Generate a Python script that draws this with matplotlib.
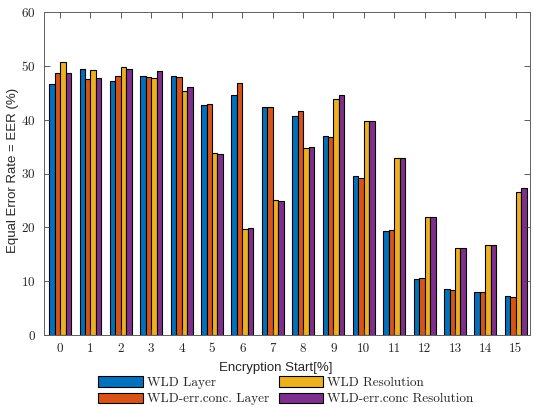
import numpy as np
import matplotlib.pyplot as plt

# encryption start positions
start = np.arange(16)
tick_labels = [str(s) for s in start]

# EER values (%) per method
wld_layer = [46.6, 49.5, 47.2, 48.2, 48.2, 42.8, 44.6, 42.4, 40.6, 36.9, 29.5, 19.3, 10.4, 8.55, 7.9, 7.3]
wld_err_layer = [48.6, 47.5, 48.2, 47.9, 48.0, 43.0, 46.8, 42.4, 41.7, 36.7, 29.2, 19.5, 10.5, 8.4, 8.05, 7.1]
wld_res = [50.8, 49.2, 49.7, 47.8, 45.4, 33.9, 19.75, 25.1, 34.7, 43.8, 39.7, 32.9, 21.9, 16.2, 16.7, 26.5]
wld_err_res = [48.6, 47.8, 49.4, 49.0, 46.0, 33.6, 19.9, 24.9, 34.9, 44.6, 39.75, 32.8, 21.9, 16.1, 16.8, 27.3]

series = [wld_layer, wld_err_layer, wld_res, wld_err_res]
names = ["WLD Layer", "WLD-err.conc. Layer", "WLD Resolution", "WLD-err.conc Resolution"]
colors = ["#0072BD", "#D95319", "#EDB120", "#7E2F8E"]

serif = "cmr10"
sans = "Liberation Sans"
plt.rcParams["axes.formatter.use_mathtext"] = True

fig = plt.figure(figsize=(5.34, 4.07), dpi=100)
ax = fig.add_axes([44/534, 72/407, 486/534, 323/407])

w = 0.18
for i, (vals, name, c) in enumerate(zip(series, names, colors)):
    off = (i - 1.5) * w
    ax.bar(start + off, vals, width=w, color=c, edgecolor="black",
           linewidth=0.8, label=name)

ax.set_xlim(-0.53, 15.47)
ax.set_ylim(0, 60)
ax.set_xticks(start)
ax.set_xticklabels(tick_labels)
ax.set_yticks(np.arange(0, 61, 10))
ax.tick_params(direction="in", top=True, right=True, length=4, width=0.6,
               colors="#404040", labelsize=9.5, pad=6)
for lab in ax.get_xticklabels() + ax.get_yticklabels():
    lab.set_family(serif)
    lab.set_color("#262626")
for sp in ax.spines.values():
    sp.set_color("#606060")
    sp.set_linewidth(0.7)

ax.set_xlabel("Encryption Start[%]", fontfamily=sans, fontsize=9.5, color="#262626")
ax.xaxis.set_label_coords(0.477, -0.083)
ax.set_ylabel("Equal Error Rate = EER (%)", fontfamily=sans, fontsize=9.5, color="#262626")
ax.yaxis.set_label_coords(-0.052, 0.51)

leg = ax.legend(ncol=2, loc="upper center", bbox_to_anchor=(0.498, -0.108),
                frameon=False, prop={"family": serif, "size": 9.5},
                handlelength=3.4, handleheight=0.85, handletextpad=0.3,
                columnspacing=0.7, labelspacing=0.25, borderpad=0)
for t in leg.get_texts():
    t.set_color("#262626")

fig.savefig("out.png", dpi=100)
